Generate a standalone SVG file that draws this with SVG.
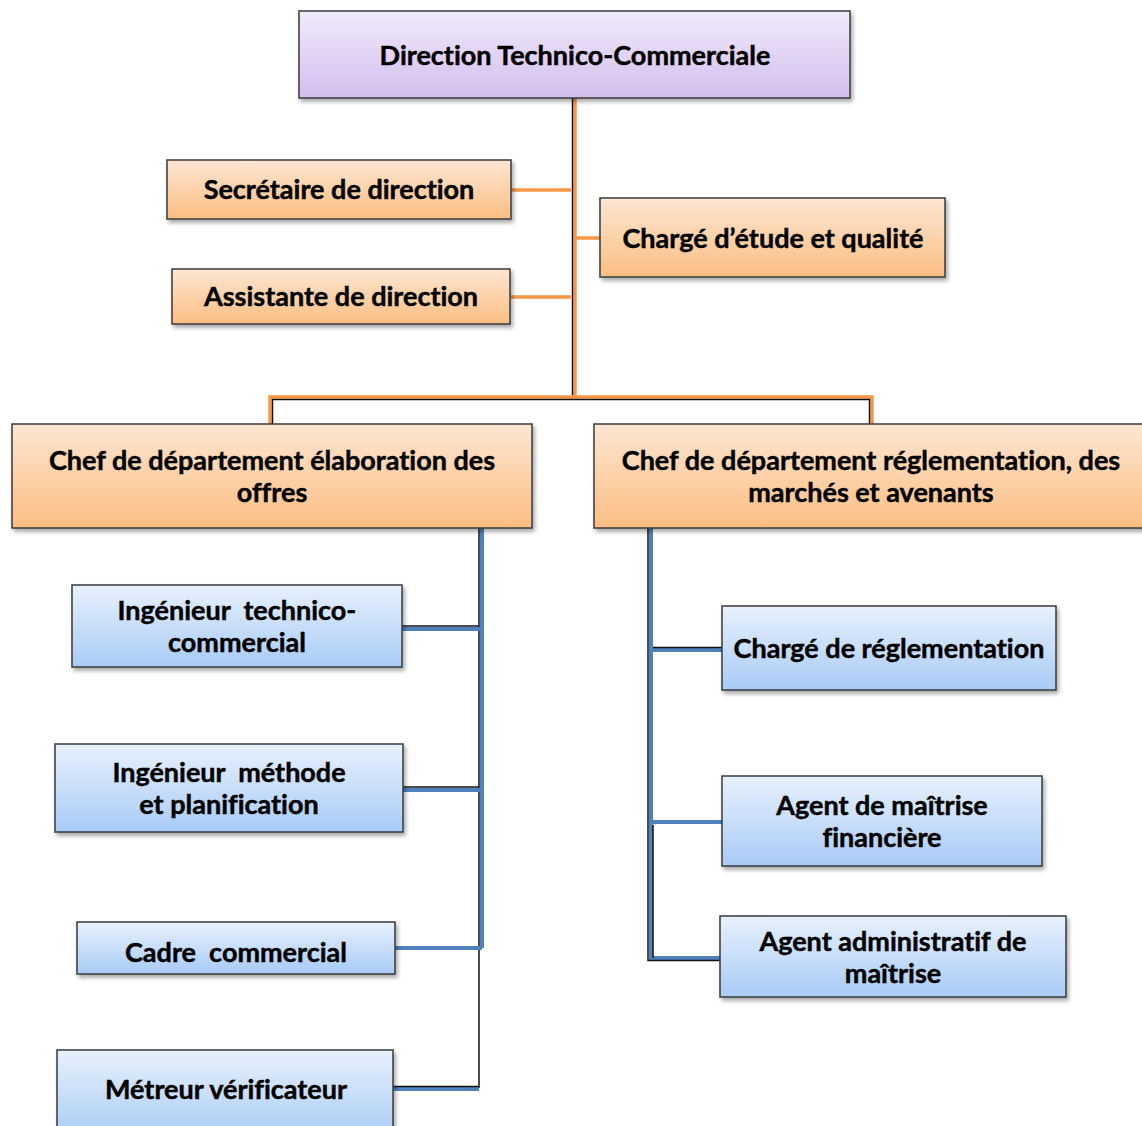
<svg xmlns="http://www.w3.org/2000/svg" width="1142" height="1126" viewBox="0 0 1142 1126">
  <style>
    .box { stroke: #3a3a3a; stroke-width: 1.5; filter: url(#shadow); }
    .lbl { font-family: Lato, "Liberation Sans", sans-serif; font-weight: 700; font-size: 27px; font-variant-ligatures: none; fill: #000; stroke: #000; stroke-width: 0.45; text-anchor: middle; dominant-baseline: central; }
    .top { fill: url(#gPurple); }
    .org { fill: url(#gOrange); }
    .blu { fill: url(#gBlue); }
    .or { stroke: #f79646; stroke-width: 3.5; fill: none; }
    .bl { stroke: #4f81bd; stroke-width: 4; fill: none; }
    .dk { stroke: #111; stroke-width: 1.5; fill: none; }
  </style>
  <defs>
    <linearGradient id="gPurple" x1="0" y1="0" x2="0" y2="1">
      <stop offset="0" stop-color="#f1ebfb"/>
      <stop offset="1" stop-color="#d3bdee"/>
    </linearGradient>
    <linearGradient id="gOrange" x1="0" y1="0" x2="0" y2="1">
      <stop offset="0" stop-color="#fde6d2"/>
      <stop offset="1" stop-color="#fbbe82"/>
    </linearGradient>
    <linearGradient id="gBlue" x1="0" y1="0" x2="0" y2="1">
      <stop offset="0" stop-color="#e8f1fd"/>
      <stop offset="1" stop-color="#a8cbf6"/>
    </linearGradient>
    <filter id="shadow" x="-5%" y="-10%" width="115%" height="130%">
      <feDropShadow dx="2" dy="3" stdDeviation="2" flood-color="#000" flood-opacity="0.35"/>
    </filter>
  </defs>

  <rect width="1142" height="1126" fill="#fff"/>

  <!-- connectors -->
  <g id="connectors">
    <!-- direction trunk and staff links -->
    <path class="or" d="M575 98 V397"/>
    <path class="dk" d="M572.5 98 V395"/>
    <path class="or" d="M511 190 H571"/>
    <path class="or" d="M511 297 H571"/>
    <path class="or" d="M576 238 H600"/>
    <!-- department bar -->
    <path class="or" d="M270 424 V397 H872 V424"/>
    <path class="dk" d="M272.5 424 V399.5 H869.5 V424"/>
    <!-- left department branch -->
    <path class="bl" d="M482 528 V948"/>
    <path class="dk" d="M479 528 V1088"/>
    <path class="bl" d="M402 629 H482"/>
    <path class="dk" d="M402 626 H479"/>
    <path class="bl" d="M403 790 H482"/>
    <path class="dk" d="M403 787 H479"/>
    <path class="bl" d="M395 948 H482"/>
    <path class="bl" d="M393 1089 H479"/>
    <path class="dk" d="M393 1086.5 H479"/>
    <!-- right department branch -->
    <path class="bl" d="M651 528 V958 H720"/>
    <path class="dk" d="M648 528 V960.5 H720"/>
    <path class="bl" d="M651 650 H722"/>
    <path class="dk" d="M653 647.5 H722"/>
    <path class="bl" d="M651 822 H722"/>
    <path class="dk" d="M653 825 V958"/>
  </g>

  <!-- nodes -->
  <g id="direction">
    <rect class="box top" x="299" y="11" width="551" height="87"/>
    <text class="lbl" x="575" y="54">Direction Technico-Commerciale</text>
  </g>
  <g id="secretaire">
    <rect class="box org" x="167" y="160" width="344" height="59"/>
    <text class="lbl" x="339" y="188">Secrétaire de direction</text>
  </g>
  <g id="assistante">
    <rect class="box org" x="172" y="269" width="338" height="55"/>
    <text class="lbl" x="341" y="295">Assistante de direction</text>
  </g>
  <g id="charge-etude">
    <rect class="box org" x="600" y="198" width="345" height="79"/>
    <text class="lbl" x="773" y="237">Chargé d’étude et qualité</text>
  </g>
  <g id="dept-offres">
    <rect class="box org" x="12" y="424" width="520" height="104"/>
    <text class="lbl" x="272" y="459">Chef de département élaboration des</text>
    <text class="lbl" x="272" y="491">offres</text>
  </g>
  <g id="dept-reglementation">
    <rect class="box org" x="594" y="424" width="560" height="104"/>
    <text class="lbl" x="871" y="459">Chef de département réglementation, des</text>
    <text class="lbl" x="871" y="491">marchés et avenants</text>
  </g>
  <g id="ing-technico">
    <rect class="box blu" x="72" y="585" width="330" height="82"/>
    <text class="lbl" x="237" y="609" xml:space="preserve">Ingénieur  technico-</text>
    <text class="lbl" x="237" y="641">commercial</text>
  </g>
  <g id="ing-methode">
    <rect class="box blu" x="55" y="744" width="348" height="88"/>
    <text class="lbl" x="229" y="771" xml:space="preserve">Ingénieur  méthode</text>
    <text class="lbl" x="229" y="803">et planification</text>
  </g>
  <g id="cadre-commercial">
    <rect class="box blu" x="77" y="922" width="318" height="52"/>
    <text class="lbl" x="236" y="951" xml:space="preserve">Cadre  commercial</text>
  </g>
  <g id="metreur">
    <rect class="box blu" x="57" y="1050" width="336" height="90"/>
    <text class="lbl" x="226" y="1088">Métreur vérificateur</text>
  </g>
  <g id="charge-reglementation">
    <rect class="box blu" x="722" y="606" width="334" height="84"/>
    <text class="lbl" x="889" y="647">Chargé de réglementation</text>
  </g>
  <g id="agent-financiere">
    <rect class="box blu" x="722" y="776" width="320" height="90"/>
    <text class="lbl" x="882" y="804">Agent de maîtrise</text>
    <text class="lbl" x="882" y="836">financière</text>
  </g>
  <g id="agent-administratif">
    <rect class="box blu" x="720" y="916" width="346" height="81"/>
    <text class="lbl" x="893" y="940">Agent administratif de</text>
    <text class="lbl" x="893" y="972">maîtrise</text>
  </g>
</svg>
